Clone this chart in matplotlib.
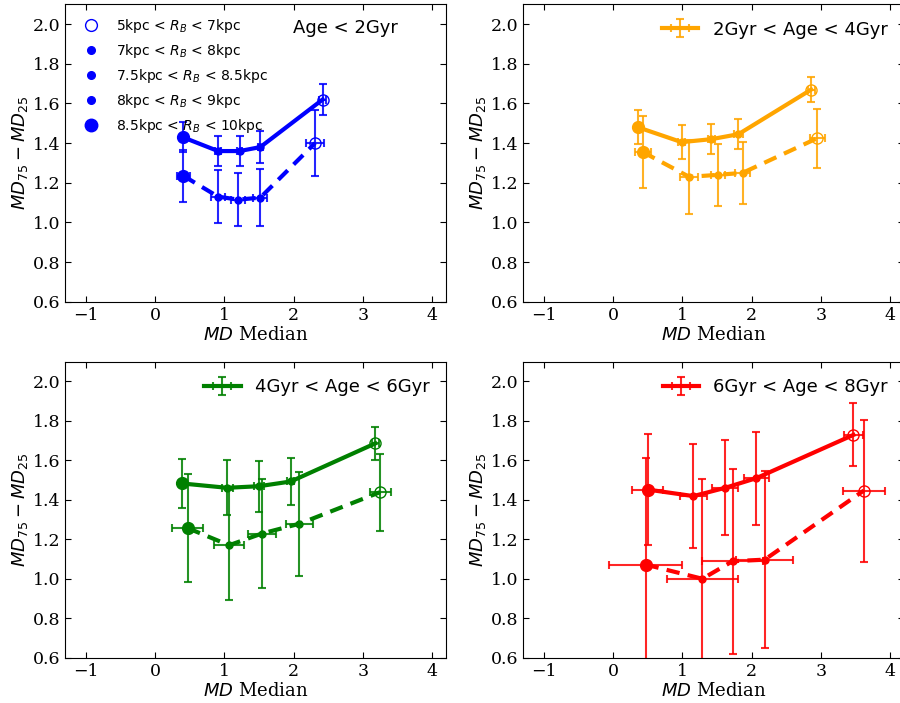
import numpy as np
import matplotlib.pyplot as plt
from matplotlib.lines import Line2D

plt.rcParams['font.family'] = 'serif'
plt.rcParams['font.serif'] = ['DejaVu Serif']

# radial bins, ordered from low to high MD median (outer -> inner)
bin_labels = ["8.5kpc < $R_B$ < 10kpc", "8kpc < $R_B$ < 9kpc",
              "7.5kpc < $R_B$ < 8.5kpc", "7kpc < $R_B$ < 8kpc",
              "5kpc < $R_B$ < 7kpc"]

# Age < 2Gyr
b_x = [0.40, 0.91, 1.22, 1.52, 2.42]
b_y = [1.43, 1.36, 1.36, 1.38, 1.62]
b_xerr = [0.03, 0.04, 0.04, 0.04, 0.05]
b_yerr = [0.075, 0.075, 0.075, 0.08, 0.08]
b_xd = [0.41, 0.91, 1.20, 1.52, 2.31]
b_yd = [1.235, 1.13, 1.115, 1.125, 1.40]
b_xerrd = [0.10, 0.10, 0.10, 0.10, 0.13]
b_yerrd = [0.13, 0.135, 0.135, 0.145, 0.165]

# 2Gyr < Age < 4Gyr
o_x = [0.36, 0.99, 1.42, 1.81, 2.86]
o_y = [1.48, 1.405, 1.42, 1.445, 1.67]
o_xerr = [0.05, 0.05, 0.05, 0.07, 0.05]
o_yerr = [0.085, 0.085, 0.075, 0.077, 0.063]
o_xd = [0.43, 1.10, 1.51, 1.87, 2.95]
o_yd = [1.355, 1.23, 1.24, 1.25, 1.425]
o_xerrd = [0.12, 0.13, 0.10, 0.11, 0.11]
o_yerrd = [0.18, 0.185, 0.155, 0.155, 0.148]

# 4Gyr < Age < 6Gyr
g_x = [0.39, 1.04, 1.50, 1.96, 3.18]
g_y = [1.483, 1.461, 1.469, 1.493, 1.686]
g_xerr = [0.05, 0.08, 0.07, 0.05, 0.05]
g_yerr = [0.125, 0.14, 0.13, 0.12, 0.082]
g_xd = [0.47, 1.07, 1.54, 2.085, 3.25]
g_yd = [1.257, 1.17, 1.229, 1.279, 1.439]
g_xerrd = [0.22, 0.22, 0.20, 0.20, 0.15]
g_yerrd = [0.275, 0.28, 0.278, 0.263, 0.195]

# 6Gyr < Age < 8Gyr
r_x = [0.50, 1.16, 1.62, 2.07, 3.47]
r_y = [1.452, 1.419, 1.461, 1.51, 1.729]
r_xerr = [0.22, 0.20, 0.19, 0.18, 0.14]
r_yerr = [0.283, 0.263, 0.24, 0.235, 0.16]
r_xd = [0.47, 1.29, 1.725, 2.19, 3.62]
r_yd = [1.072, 1.0, 1.089, 1.097, 1.447]
r_xerrd = [0.53, 0.51, 0.44, 0.41, 0.30]
r_yerrd = [0.54, 0.505, 0.468, 0.45, 0.36]

# marker style per radial bin
ms_list = [8.5, 5, 5, 5, 8]
fill_list = [True, True, True, True, False]


def draw_series(ax, x, y, xerr, yerr, color, ls, label=None):
    cont = ax.errorbar(x, y, xerr=xerr, yerr=yerr, color=color, ls=ls,
                       lw=3, elinewidth=1.5, capsize=3, capthick=1.5,
                       label=label)
    for c in cont[1]:
        c.set_alpha(0.85)
    for c in cont[2]:
        c.set_alpha(0.85)
    for i in range(len(x)):
        ax.plot(x[i], y[i], 'o', ms=ms_list[i], color=color,
                mfc=color if fill_list[i] else 'none', mew=1, zorder=4)


def style_axes(ax):
    ax.set_xlim(-1.3, 4.2)
    ax.set_ylim(0.6, 2.1)
    ax.set_xticks([-1, 0, 1, 2, 3, 4])
    ax.set_yticks(np.arange(0.6, 2.01, 0.2))
    ax.tick_params(direction='in', top=True, right=True, length=4.5,
                   labelsize=12.5)
    ax.set_xlabel("$MD$ Median", fontsize=13, labelpad=2)
    ax.set_ylabel("$MD_{75}-MD_{25}$", fontsize=13, labelpad=2)


dash = (0, (3.2, 2.0))

fig = plt.figure(figsize=(9, 7.03), dpi=100)
ax1 = fig.add_axes([0.0722, 0.5708, 0.4233, 0.4230])
ax2 = fig.add_axes([0.5811, 0.5708, 0.4233, 0.4230])
ax3 = fig.add_axes([0.0722, 0.0644, 0.4233, 0.4211])
ax4 = fig.add_axes([0.5811, 0.0644, 0.4233, 0.4211])

# panel 1
draw_series(ax1, b_x, b_y, b_xerr, b_yerr, 'blue', '-')
draw_series(ax1, b_xd, b_yd, b_xerrd, b_yerrd, 'blue', dash)
handles = []
for i in [4, 3, 2, 1, 0]:
    handles.append(Line2D([], [], ls='none', marker='o', color='blue',
                          ms=ms_list[i] + 0.5,
                          mfc='blue' if fill_list[i] else 'none'))
leg_labels = [bin_labels[i] for i in [4, 3, 2, 1, 0]]
ax1.legend(handles, leg_labels, loc='upper left', frameon=False,
           prop={'family': 'DejaVu Sans', 'size': 10})
ax1.text(0.874, 0.92, "Age < 2Gyr", transform=ax1.transAxes, ha='right',
         va='center', fontsize=13, family='DejaVu Sans')

# panels 2-4
panels = [
    (ax2, 'orange', o_x, o_y, o_xerr, o_yerr, o_xd, o_yd, o_xerrd, o_yerrd,
     "2Gyr < Age < 4Gyr"),
    (ax3, 'green', g_x, g_y, g_xerr, g_yerr, g_xd, g_yd, g_xerrd, g_yerrd,
     "4Gyr < Age < 6Gyr"),
    (ax4, 'red', r_x, r_y, r_xerr, r_yerr, r_xd, r_yd, r_xerrd, r_yerrd,
     "6Gyr < Age < 8Gyr"),
]
for ax, col, x, y, xe, ye, xd, yd, xed, yed, lab in panels:
    draw_series(ax, x, y, xe, ye, col, '-', label=lab)
    draw_series(ax, xd, yd, xed, yed, col, dash)
    ax.legend(loc='upper right', frameon=False,
              prop={'family': 'DejaVu Sans', 'size': 13})

for ax in [ax1, ax2, ax3, ax4]:
    style_axes(ax)

fig.savefig("out.png", dpi=100)
